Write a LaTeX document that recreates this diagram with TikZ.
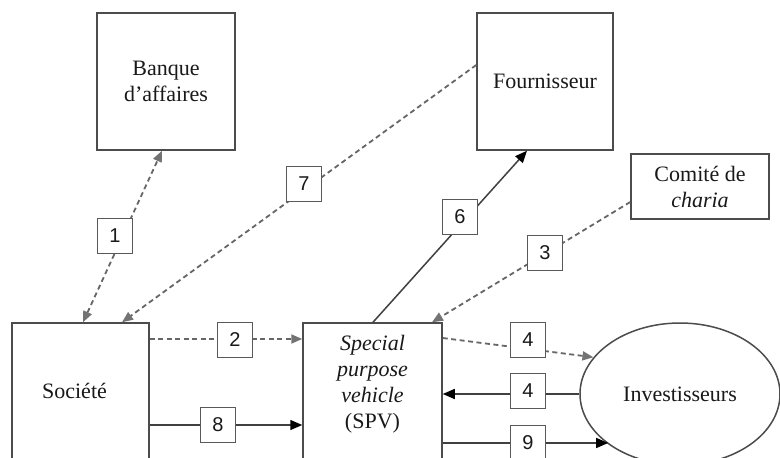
\documentclass[tikz,border=0pt]{standalone}
\usepackage{fontspec}
\setmainfont{Liberation Serif}
\newfontfamily\numfont{Liberation Sans}
\usetikzlibrary{arrows.meta,shapes.geometric}
\tikzset{
  box/.style={draw=black!70, line width=1.5pt, fill=white, inner sep=0pt, align=center,
    font=\fontsize{22}{26}\selectfont, text=black!90},
  numbox/.style={draw=black!65, line width=1.4pt, fill=white, minimum width=35pt, minimum height=35pt,
    inner sep=0pt, font=\numfont\fontsize{20}{22}\selectfont, text=black!90},
  graytip/.tip={Triangle[length=11pt,width=9pt,color=black!55,fill=black!55]},
  blacktip/.tip={Triangle[length=12pt,width=10pt,color=black,fill=black]},
  dotline/.style={draw=black!60, line width=1.8pt, dash pattern=on 5pt off 3.5pt, -graytip},
  dotboth/.style={draw=black!60, line width=1.8pt, dash pattern=on 5pt off 3.5pt, graytip-graytip},
  solidline/.style={draw=black!75, line width=1.5pt, -blacktip},
}
\begin{document}
\begin{tikzpicture}[x=1pt,y=-1pt]
\useasboundingbox (0,0) rectangle (780,458);
\clip (0,0) rectangle (780,458);
\fill[white] (0,0) rectangle (780,458);

% main boxes
\node[box, minimum width=138pt, minimum height=137pt] (banque) at (166,81.5) {Banque\\d'affaires};
\node[box, minimum width=136pt, minimum height=137pt] (fourn) at (545,81.5) {Fournisseur};
\node[box, minimum width=138pt, minimum height=65pt] (comite) at (700,186.5) {Comité de\\\textit{charia}};
\node[box, minimum width=137pt, minimum height=157pt,
  label={[font=\fontsize{22}{26}\selectfont, text=black!90, xshift=-6pt, yshift=11pt]center:Société}] (soc) at (80.5,401.5) {};
\node[box, minimum width=139pt, minimum height=157pt,
  label={[font=\fontsize{22}{26}\selectfont, text=black!90, align=center, yshift=17pt]center:\textit{Special}\\\textit{purpose}\\\textit{vehicle}\\(SPV)}] (spv) at (372.5,401.5) {};
\node[box, ellipse, minimum width=200pt, minimum height=142pt] (inv) at (680,394) {Investisseurs};

% connectors
\draw[dotboth] ([xshift=2.5pt]soc.north) -- ([xshift=-4pt]banque.south);
\draw[dotline] ([yshift=16.5pt]fourn.west) -- ([xshift=41.5pt]soc.north);
\draw[dotline] ([yshift=62.5pt]soc.east) -- ([yshift=62.5pt]spv.west);
\draw[solidline] ([yshift=-23.5pt]soc.east) -- ([yshift=-23.5pt]spv.west);
\draw[solidline] ([xshift=0.5pt]spv.north) -- ([xshift=-18pt]fourn.south);
\draw[dotline] ([yshift=-15.5pt]comite.west) -- ([xshift=59.5pt]spv.north);
\draw[dotline] ([yshift=63.5pt]spv.east) -- (inv.157);
\draw[solidline] (inv.west) -- (inv.west -| spv.east);
\draw[solidline] ([yshift=-41.5pt]spv.east) -- ([yshift=-41.5pt]spv.east -| inv.215);

% number labels
\node[numbox] (n1) at (115,236) {1};
\node[numbox] (n7) at (304,184) {7};
\node[numbox] (n6) at (460,217) {6};
\node[numbox] (n3) at (545,253) {3};
\node[numbox] (n2) at (235,340) {2};
\node[numbox] (n8) at (218,425) {8};
\node[numbox] (n4a) at (528,340) {4};
\node[numbox] (n4b) at (528,391) {4};
\node[numbox] (n9) at (528,443) {9};
\end{tikzpicture}
\end{document}
